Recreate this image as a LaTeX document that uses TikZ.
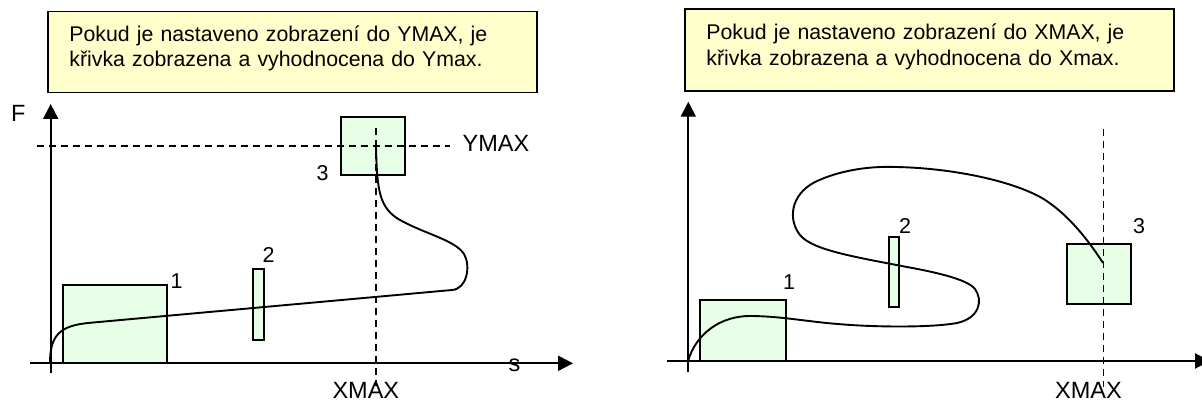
\documentclass[tikz,border=0pt]{standalone}
\usepackage{fontspec}
\setmainfont{Liberation Sans}
\usetikzlibrary{arrows.meta}
\definecolor{noteyellow}{HTML}{FFFFCC}
\definecolor{boxgreen}{HTML}{E6FFE6}
\tikzset{
  notebox/.style={draw=black, line width=1.8pt, fill=noteyellow, anchor=north west,
    minimum width=489pt, minimum height=81pt, inner xsep=21pt, inner ysep=13pt,
    text width=446pt, align=left, font=\fontsize{21.3}{25.3}\selectfont},
  gbox/.style={draw=black, line width=1.8pt, fill=boxgreen, inner sep=0pt},
  lbl/.style={anchor=base, inner sep=0pt, font=\fontsize{23.5}{27}\selectfont},
  num/.style={anchor=base, inner sep=0pt, font=\fontsize{21.5}{25}\selectfont},
  axis/.style={line width=2pt, -{Triangle[length=15pt,width=15pt]}},
  dline/.style={line width=1.6pt, dash pattern=on 7pt off 5pt},
  curve/.style={line width=1.9pt},
}
\begin{document}
\begin{tikzpicture}[x=1pt,y=-1pt]
\useasboundingbox (0,0) rectangle (1202,401);
% ---------- left panel ----------
\node[notebox] (noteL) at (47,10.7)
  {\rule{0pt}{17pt}Pokud je nastaveno zobrazení do YMAX, je\\
   křivka zobrazena a vyhodnocena do Ymax.\rule[-12.7pt]{0pt}{12.7pt}};
\node[gbox, minimum width=104pt, minimum height=78pt] (b1L) at (115.2,324) {};
\node[gbox, minimum width=11pt, minimum height=71pt] (b2L) at (258.5,304.5) {};
\node[gbox, minimum width=64pt, minimum height=58pt] (b3L) at (373,146) {};
\coordinate (yAbotL) at (50.7,373);
\coordinate (yAtopL) at (50.7,104);
\coordinate (xAleftL) at (30,363.3);
\coordinate (xArightL) at (573,363.3);
\coordinate (hdS) at (36.7,146);
\coordinate (hdE) at (450,146);
\coordinate (vdS) at (376,128);
\coordinate (vdE) at (376,386);
\draw[axis] (yAbotL) -- (yAtopL);
\draw[axis] (xAleftL) -- (xArightL);
\draw[dline] (hdS) -- (hdE);
\draw[dline] (vdS) -- (vdE);
\draw[curve] (376,146) .. controls (377,190) and (379,208) .. (400,220)
  .. controls (425,234) and (455,240) .. (464,254)
  .. controls (471,266) and (467,289) .. (452,290)
  -- (90,322.8)
  .. controls (60,325.5) and (50,335) .. (50,363);
\node[lbl] (lF) at (18.3,122) {F};
\node[lbl] (ls) at (514.5,371.7) {s};
\node[lbl] (lYMAX) at (496,151.5) {YMAX};
\node[lbl] (lXMAXL) at (365.8,398.5) {XMAX};
\node[num] (n1L) at (176.5,288.5) {1};
\node[num] (n2L) at (268.5,262) {2};
\node[num] (n3L) at (322.5,180) {3};
% ---------- right panel ----------
\node[notebox, minimum height=81.7pt, inner xsep=19.3pt] (noteR) at (684,8.3)
  {\rule{0pt}{17.7pt}Pokud je nastaveno zobrazení do XMAX, je\\
   křivka zobrazena a vyhodnocena do Xmax.\rule[-12.7pt]{0pt}{12.7pt}};
\node[gbox, minimum width=86pt, minimum height=61pt] (b1R) at (743,330.5) {};
\node[gbox, minimum width=10pt, minimum height=70pt] (b2R) at (894,272) {};
\node[gbox, minimum width=64.4pt, minimum height=60pt] (b3R) at (1098.8,274) {};
\coordinate (yAbotR) at (688.3,371.7);
\coordinate (yAtopR) at (688.3,101.7);
\coordinate (xAleftR) at (667,361);
\coordinate (xArightR) at (1210,361);
\coordinate (vdSR) at (1103.6,129);
\coordinate (vdER) at (1103.6,387);
\draw[axis] (yAbotR) -- (yAtopR);
\draw[axis] (xAleftR) -- (xArightR);
\draw[dline] (vdSR) -- (vdER);
\draw[curve] (688,361) .. controls (696,334) and (720,316) .. (750,316)
  .. controls (780,316) and (810,322) .. (838,324)
  .. controls (870,327) and (930,328) .. (957,323)
  .. controls (980,318) and (983,300) .. (975,289)
  .. controls (968,280) and (940,273) .. (907,267)
  .. controls (855,257) and (812,250) .. (800,235)
  .. controls (788,220) and (790,195) .. (815,182)
  .. controls (840,170) and (870,166) .. (896,167)
  .. controls (950,168) and (1010,180) .. (1042,198)
  .. controls (1065,212) and (1085,235) .. (1103,263);
\node[lbl] (lXMAXR) at (1088.5,398.5) {XMAX};
\node[num] (n1R) at (789,289) {1};
\node[num] (n2R) at (905,233) {2};
\node[num] (n3R) at (1139,233) {3};
\end{tikzpicture}
\end{document}
